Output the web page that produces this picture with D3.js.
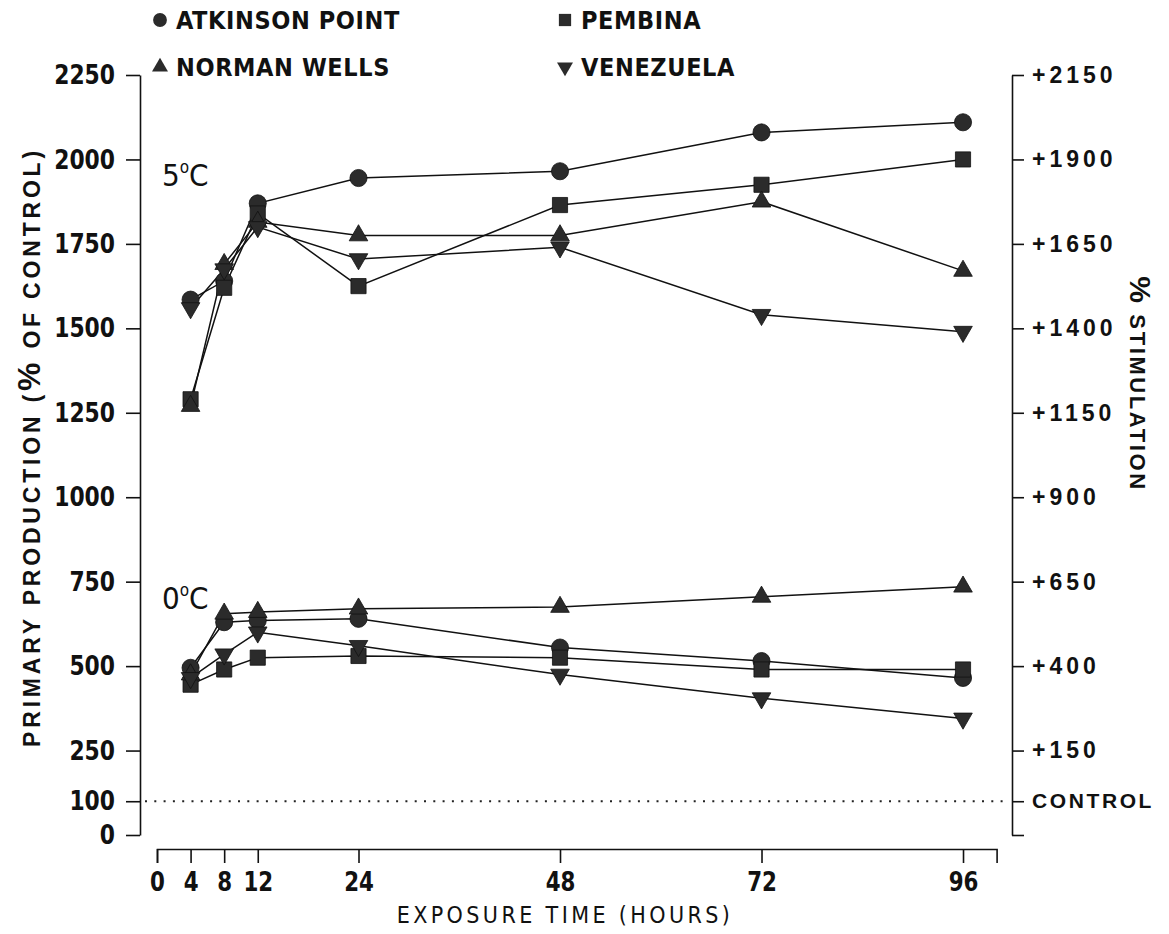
<!DOCTYPE html>
<html>
  <head>
    <meta charset="utf-8">
    <title>Primary production vs exposure time</title>
    <script src="https://d3js.org/d3.v7.min.js"></script>
    <style>
      body { margin: 0; background: #fff; }
      svg { display: block; }
      .narrow { font-family: "Liberation Sans Narrow", "DejaVu Sans Condensed", "Arial Narrow", sans-serif; font-stretch: condensed; }
      .wide { font-family: "Liberation Sans", Arial, Helvetica, sans-serif; }
    </style>
  </head>
  <body>
    <svg id="chart" width="1169" height="934"></svg>
    <script>
      // data (% of control)
      hours = [4, 8, 12, 24, 48, 72, 96];
      atkinson5 = [1585, 1640, 1870, 1945, 1965, 2080, 2110];
      pembina5 = [1290, 1620, 1840, 1625, 1865, 1925, 2000];
      normanWells5 = [1270, 1690, 1815, 1775, 1775, 1875, 1670];
      venezuela5 = [1560, 1675, 1800, 1705, 1740, 1540, 1490];
      atkinson0 = [495, 630, 635, 640, 555, 515, 465];
      pembina0 = [445, 490, 525, 530, 525, 490, 490];
      normanWells0 = [475, 655, 660, 670, 675, 705, 735];
      venezuela0 = [465, 535, 600, 560, 475, 405, 345];
      xTicks = [0, 4, 8, 12, 24, 48, 72, 96];
      yTicks = [2250, 2000, 1750, 1500, 1250, 1000, 750, 500, 250, 100, 0];
      oils = ["ATKINSON POINT", "PEMBINA", "NORMAN WELLS", "VENEZUELA"];

      svg = d3.select("#chart");
      x = d3.scaleLinear().domain([0, 100]).range([157, 996.6]);
      y = d3.scaleLinear().domain([0, 2250]).range([835, 75]);

      symbols = {
        "ATKINSON POINT": d3.symbol().type(d3.symbolCircle).size(230),
        "PEMBINA": d3.symbol().type(d3.symbolSquare).size(230),
        "NORMAN WELLS": d3.symbol().type(d3.symbolTriangle).size(150),
        "VENEZUELA": d3.symbol().type(d3.symbolTriangle).size(150)
      };
      rot = { "VENEZUELA": 180 };

      series = [
        { oil: "ATKINSON POINT", v: atkinson5 },
        { oil: "PEMBINA", v: pembina5 },
        { oil: "NORMAN WELLS", v: normanWells5 },
        { oil: "VENEZUELA", v: venezuela5 },
        { oil: "ATKINSON POINT", v: atkinson0 },
        { oil: "PEMBINA", v: pembina0 },
        { oil: "NORMAN WELLS", v: normanWells0 },
        { oil: "VENEZUELA", v: venezuela0 }
      ];

      // squeeze axis text horizontally (no narrow font installed)
      function squeeze(sel, k) {
        sel.each(function() {
          t = d3.select(this);
          t.attr("x", (+t.attr("x") || 0) / k).attr("transform", "scale(" + k + ",1)");
        });
      }

      // control line
      svg.append("line")
        .attr("x1", 145).attr("x2", 1008)
        .attr("y1", y(100)).attr("y2", y(100))
        .attr("stroke", "#222").attr("stroke-width", 2)
        .attr("stroke-dasharray", "2,7.3");

      // left axis
      left = svg.append("g")
        .attr("transform", "translate(140,0)")
        .call(d3.axisLeft(y).tickValues(yTicks).tickFormat(d3.format("d"))
          .tickSize(14).tickSizeOuter(0).tickPadding(11));
      left.selectAll("text").attr("class", "narrow")
        .style("font-size", "27px").style("font-weight", "bold").attr("fill", "#111")
        .call(squeeze, 0.9);

      // right axis
      right = svg.append("g")
        .attr("transform", "translate(1012,0)")
        .call(d3.axisRight(y).tickValues(yTicks).tickSize(12).tickSizeOuter(0).tickPadding(8)
          .tickFormat(function(d) { return d == 100 ? "CONTROL" : d == 0 ? "" : "+" + (d - 100); }));
      right.selectAll("text").attr("class", "wide")
        .style("font-weight", "bold").attr("fill", "#111")
        .style("font-size", function(d) { return d == 100 ? "21px" : "23px"; })
        .style("letter-spacing", function(d) { return d == 100 ? "2.6px" : "4px"; });

      // x axis
      bottom = svg.append("g")
        .attr("transform", "translate(0,849)")
        .call(d3.axisBottom(x).tickValues(xTicks).tickSize(14).tickSizeOuter(14).tickPadding(9));
      bottom.selectAll("text").attr("class", "narrow")
        .style("font-size", "27px").style("font-weight", "bold").attr("fill", "#111")
        .call(squeeze, 0.88);

      svg.selectAll(".domain, .tick line").attr("stroke", "#111").attr("stroke-width", 1.6);

      // series lines and markers
      line = d3.line()
        .x(function(d, i) { return x(hours[i]); })
        .y(function(d) { return y(d); });
      svg.selectAll(".series")
        .data(series)
        .enter().append("path")
          .attr("d", function(s) { return line(s.v); })
          .attr("fill", "none").attr("stroke", "#111").attr("stroke-width", 1.5);
      series.forEach(function(s) {
        svg.selectAll(null)
          .data(s.v)
          .enter().append("path")
            .attr("d", symbols[s.oil])
            .attr("transform", function(d, i) {
              return "translate(" + x(hours[i]) + "," + y(d) + ") rotate(" + (rot[s.oil] || 0) + ")";
            })
            .attr("fill", "#2b2b2b").attr("stroke", "#111").attr("stroke-width", 0.8);
      });

      // legend
      legendPos = [[160, 20], [565, 20], [160, 67], [565, 67]];
      oils.forEach(function(o, i) {
        svg.append("path")
          .attr("d", symbols[o].size(o == "ATKINSON POINT" || o == "PEMBINA" ? 150 : 110)())
          .attr("transform", "translate(" + legendPos[i][0] + "," + legendPos[i][1] + ") rotate(" + (rot[o] || 0) + ")")
          .attr("fill", "#2b2b2b");
        svg.append("text")
          .attr("class", "narrow")
          .attr("x", legendPos[i][0] + 16).attr("y", legendPos[i][1] + 9)
          .style("font-size", "25px").style("font-weight", "bold").style("letter-spacing", "0.6px")
          .attr("fill", "#111")
          .text(o);
      });

      // temperature labels
      [["5", 1950], ["0", 700]].forEach(function(t) {
        lab = svg.append("text")
          .attr("class", "narrow")
          .attr("x", 162).attr("y", y(t[1]) + 10)
          .style("font-size", "31px").attr("fill", "#111");
        lab.append("tspan").text(t[0]);
        lab.append("tspan").attr("dy", -13).style("font-size", "17px").text("o");
        lab.append("tspan").attr("dy", 13).text("C");
      });

      // axis titles
      svg.append("text")
        .attr("class", "wide")
        .attr("transform", "translate(40,447) rotate(-90)")
        .attr("text-anchor", "middle")
        .style("font-size", "23px").style("font-weight", "bold").style("letter-spacing", "3.8px")
        .attr("fill", "#111")
        .html('PRIMARY PRODUCTION (<tspan style="font-size:32px">%</tspan> OF CONTROL)');
      svg.append("text")
        .attr("class", "wide")
        .attr("transform", "translate(1130,384) rotate(90)")
        .attr("text-anchor", "middle")
        .style("font-size", "22px").style("font-weight", "bold").style("letter-spacing", "2.6px")
        .attr("fill", "#111")
        .html('<tspan style="font-size:30px">%</tspan> STIMULATION');
      svg.append("text")
        .attr("class", "narrow")
        .attr("x", 565).attr("y", 923)
        .attr("text-anchor", "middle")
        .style("font-size", "23px").style("letter-spacing", "3.4px")
        .attr("fill", "#111")
        .text("EXPOSURE TIME (HOURS)");
    </script>
  </body>
</html>
